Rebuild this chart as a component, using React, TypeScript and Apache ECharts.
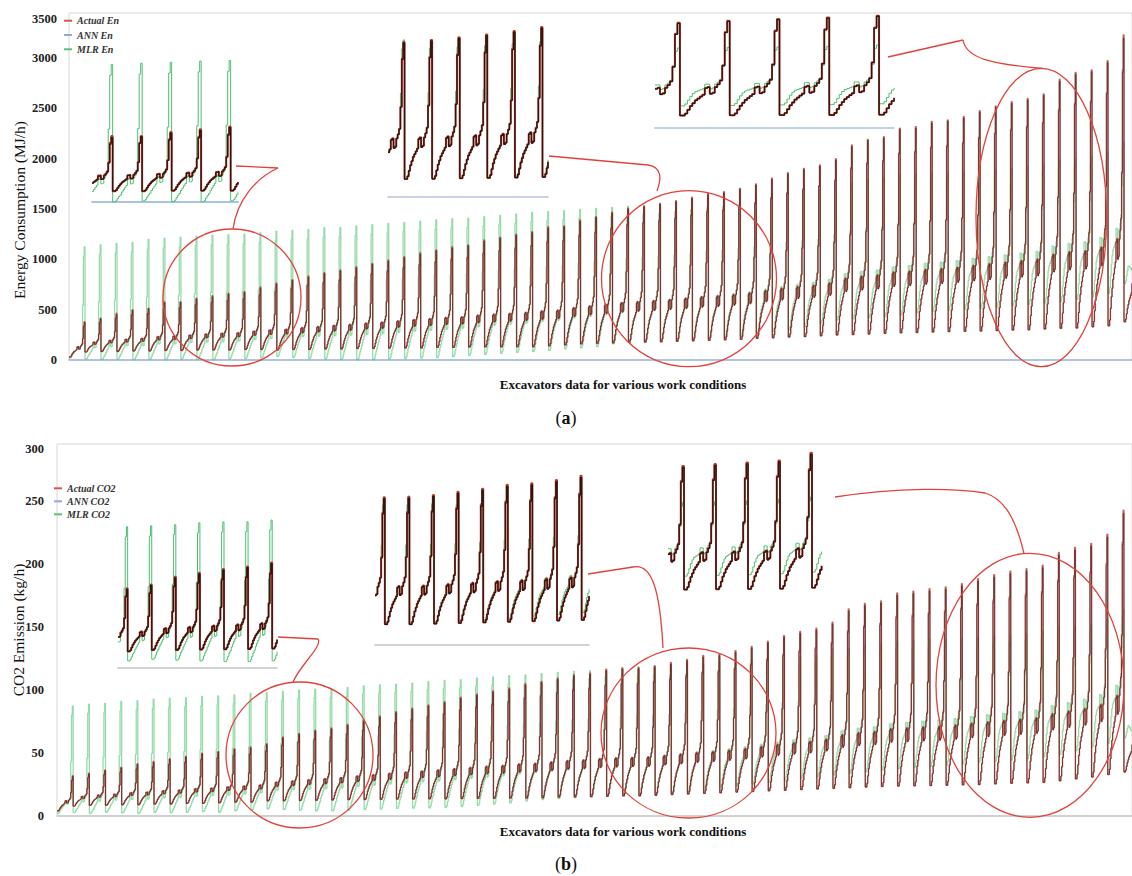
import React, { useEffect, useRef } from "react";
import * as echarts from "echarts";

// ---------- data ----------
const POINTS_PER_CYCLE = 20;
const TAIL_POINTS = 11; // the last, cut-off work cycle

// one work cycle, as share of the rise from the cycle's low to its peak
const cycleShape = [0, 0, 0.02, 0.06, 0.1, 0.13, 0.16, 0.18, 0.2, 0.22, 0.29, 0.3, 0.23, 0.24, 0.3, 0.33, 0.37, 0.53, 0.88, 1];
// share of the MLR low offset still present at each step before the spike
const mlrShift = [1, 1, 1, 1, 1, 1, 0.9, 0.8, 0.7, 0.6, 0.4, 0.3, 0.5, 0.5, 0.3, 0.2, 0.1];
// MLR spike steps (share of the way from the body to the MLR peak)
const mlrSpike = [0.4, 0.9, 1];

// (a) Energy consumption (MJ/h), one value per work cycle
const actualPeakEn = [380, 415, 465, 500, 515, 580, 580, 615, 640, 665, 680, 725, 765, 798, 835, 868, 895, 927, 960, 994, 1027, 1067, 1093, 1126, 1143, 1193, 1220, 1250, 1275, 1325, 1332, 1392, 1425, 1470, 1510, 1530, 1557, 1583, 1617, 1657, 1673, 1706, 1750, 1806, 1862, 1905, 1938, 2000, 2137, 2193, 2220, 2303, 2320, 2370, 2386, 2420, 2478, 2525, 2568, 2600, 2645, 2790, 2857, 2883, 2975, 3230, 1700];
const actualLowEn = [30, 80, 85, 85, 90, 90, 95, 95, 100, 100, 100, 105, 105, 100, 105, 105, 110, 110, 115, 115, 118, 120, 120, 125, 125, 128, 130, 130, 132, 132, 140, 150, 160, 166, 170, 175, 178, 182, 186, 190, 195, 200, 205, 215, 220, 228, 232, 240, 249, 252, 258, 265, 270, 274, 278, 282, 285, 288, 292, 298, 300, 308, 315, 318, 330, 340, 380];
const annPeakEn = [372, 410, 452, 492, 510, 566, 575, 606, 628, 655, 672, 712, 752, 790, 822, 860, 884, 915, 952, 980, 1018, 1052, 1085, 1112, 1135, 1180, 1210, 1238, 1266, 1310, 1325, 1378, 1415, 1458, 1500, 1520, 1545, 1572, 1605, 1645, 1662, 1695, 1738, 1792, 1850, 1890, 1926, 1985, 2120, 2180, 2205, 2290, 2305, 2355, 2372, 2405, 2462, 2510, 2550, 2585, 2630, 2770, 2840, 2865, 2955, 3200, 1680];
const mlrPeakEn = [1125, 1145, 1160, 1170, 1200, 1210, 1220, 1230, 1240, 1245, 1250, 1265, 1280, 1288, 1298, 1315, 1318, 1332, 1345, 1358, 1368, 1380, 1392, 1405, 1410, 1425, 1438, 1450, 1468, 1475, 1485, 1498, 1508, 1518, 1530, 1535, 1545, 1560, 1580, 1600, 1615, 1630, 1645, 1660, 1670, 1680, 1690, 1760, 1760, 1800, 1815, 1840, 1845, 1858, 1860, 1870, 1880, 1895, 1905, 1920, 1950, 1990, 2000, 2020, 2070, 2170, 1100];
const mlrLowEn = [20, 10, 5, 10, 0, 5, 0, 10, 5, 0, 10, 15, 20, 33, 25, 15, 10, 5, 0, 0, 10, 15, 20, 25, 33, 45, 55, 65, 75, 83, 95, 110, 120, 132, 160, 172, 180, 185, 195, 205, 215, 225, 240, 260, 280, 300, 331, 360, 398, 410, 420, 431, 450, 470, 485, 497, 505, 515, 525, 537, 550, 565, 580, 600, 630, 663, 760];

// (b) CO2 emission (kg/h), one value per work cycle
const actualPeakCo2 = [32, 34, 36.6, 38.8, 41.5, 43.3, 45.5, 47.4, 50, 51.4, 53.5, 54.8, 57.5, 62.8, 65.6, 68.2, 70, 72.8, 76.2, 79.5, 82.9, 85.6, 88.3, 90.9, 94.4, 96.9, 99.5, 101.7, 105.1, 107, 109.7, 112.4, 113.7, 116.4, 117.7, 118, 119.5, 122, 124.5, 127.6, 128.8, 131.4, 134.8, 139, 143.4, 146.7, 149.2, 154, 164.5, 168.9, 171, 177.3, 178.6, 180.6, 182, 184.6, 188.6, 191.8, 194.5, 196.6, 199.3, 209.5, 213.5, 216.7, 224, 243, 110];
const actualLowCo2 = [4, 8, 8.5, 8.5, 9, 9, 9.5, 9.5, 10, 10, 10.5, 11, 11, 12, 12, 12.3, 12.5, 12.7, 13, 13, 13.2, 13.4, 13.5, 13.6, 13.6, 13.8, 14, 14, 14.2, 14.2, 14.5, 15, 15.2, 15.5, 15.7, 16, 16, 16.5, 17, 17.5, 18, 18.5, 19, 19.5, 20, 20.5, 21, 21.5, 22, 22.5, 23, 23.5, 23.8, 24, 24.2, 24.5, 24.8, 25, 25.5, 26, 26.3, 26.7, 28, 29.5, 31, 33, 35];
const annPeakCo2 = [31.5, 33.4, 36, 38.2, 41, 42.6, 45, 46.8, 49.3, 50.8, 52.8, 54.1, 56.8, 62, 64.8, 67.4, 69.2, 72, 75.3, 78.6, 82, 84.7, 87.3, 89.9, 93.4, 95.9, 98.5, 100.6, 104, 105.9, 108.6, 111.2, 112.6, 115.2, 116.5, 116.9, 118.3, 120.8, 123.3, 126.3, 127.5, 130.1, 133.4, 137.6, 142, 145.2, 147.7, 152.5, 162.9, 167.2, 169.3, 175.5, 176.8, 178.8, 180.2, 182.8, 186.7, 189.9, 192.6, 194.6, 197.3, 207.4, 211.4, 214.5, 221.8, 240.6, 109];
const mlrPeakCo2 = [87.5, 89, 89.6, 91, 91.7, 92.8, 93.6, 94, 95, 95.5, 96.3, 97.6, 98.2, 99, 100.3, 100.9, 101, 102.2, 103.5, 104.3, 104.9, 105.7, 107, 107.8, 108.4, 109.7, 110.5, 111.6, 112.1, 113.2, 114.2, 115, 115.6, 116.9, 117.7, 118.5, 119, 118, 119.3, 120.8, 122, 123, 124.2, 125.3, 126, 126.8, 127.6, 132.9, 132.9, 135.9, 137, 138.9, 139.3, 140.3, 140.4, 141.2, 142, 143, 143.8, 145, 147.2, 150.2, 151, 152.5, 156.3, 163.8, 85];
const mlrLowCo2 = [2, 2.7, 2, 3, 2.5, 2, 3, 2.5, 3, 3.5, 3, 4, 4.5, 5.6, 5, 4.5, 4, 4, 4.5, 5, 5.5, 6, 6.3, 6.5, 6.7, 7.5, 8.5, 9.5, 10.5, 12, 13, 13.8, 14.5, 15, 15.5, 16, 16.2, 17, 18, 19.5, 21, 22.5, 24, 25.5, 27, 28.5, 30, 31, 32.5, 34, 35, 36.5, 37.5, 38.8, 39.5, 40.5, 41.5, 42.8, 43.5, 44.5, 45.5, 46.8, 49, 52, 55, 58, 62];

const yTicksEn = ["0", "500", "1000", "1500", "2000", "2500", "3000", "3500"];
const yTicksCo2 = ["0", "50", "100", "150", "200", "250", "300"];

// ---------- building the series from the per-cycle values ----------
function buildPanel(aPeak: number[], aLow: number[], nPeak: number[], mPeak: number[], mLow: number[]) {
  const actual: number[] = [];
  const ann: number[] = [];
  const mlr: number[] = [];
  const n = aPeak.length;
  for (let c = 0; c < n; c++) {
    const len = c === n - 1 ? TAIL_POINTS : POINTS_PER_CYCLE;
    let body = 0;
    for (let j = 0; j < len; j++) {
      const a = aLow[c] + cycleShape[j] * (aPeak[c] - aLow[c]);
      const nn = aLow[c] + cycleShape[j] * (nPeak[c] - aLow[c]);
      let m: number;
      if (j < 17) {
        m = a + (mLow[c] - aLow[c]) * mlrShift[j];
        body = m;
      } else {
        m = body + mlrSpike[j - 17] * (mPeak[c] - body);
      }
      actual.push(Math.round(a * 10) / 10);
      ann.push(Math.round(nn * 10) / 10);
      mlr.push(Math.round(m * 10) / 10);
    }
  }
  return { actual, ann, mlr };
}

const SERIF = "'Liberation Serif', 'DejaVu Serif', serif";
const RED = "#e0433b";

type Inset = { from: number; to: number; left: number; top: number; width: number; height: number; yMax: number; base: string | null };
type Panel = {
  names: [string, string, string];
  data: { actual: number[]; ann: number[]; mlr: number[] };
  main: { left: number; top: number; width: number; height: number; yMax: number; interval: number; labelMargin: number; axisColor: string };
  insets: Inset[];
};

function buildOption() {
  const panels: Panel[] = [
    {
      names: ["Actual En", "ANN En", "MLR En"],
      data: buildPanel(actualPeakEn, actualLowEn, annPeakEn, mlrPeakEn, mlrLowEn),
      main: { left: 69, top: 13, width: 1064, height: 347, yMax: 3449, interval: 500, labelMargin: 12, axisColor: "#9db7da" },
      insets: [
        { from: 106, to: 205, left: 92, top: 58, width: 146, height: 144, yMax: 1267, base: "#8fb0dc" },
        { from: 688, to: 804, left: 388, top: 27, width: 160, height: 170, yMax: 1656, base: "#b9c3d8" },
        { from: 1130, to: 1226, left: 655, top: 13, width: 239, height: 114.7, yMax: 2707, base: "#a9c2e2" },
      ],
    },
    {
      names: ["Actual CO2", "ANN CO2", "MLR CO2"],
      data: buildPanel(actualPeakCo2, actualLowCo2, annPeakCo2, mlrPeakCo2, mlrLowCo2),
      main: { left: 57, top: 444, width: 1078, height: 372, yMax: 295.7, interval: 50, labelMargin: 13, axisColor: "#c9c9c9" },
      insets: [
        { from: 232, to: 364, left: 118, top: 514.6, width: 159, height: 152.7, yMax: 106, base: "#c2c2c2" },
        { from: 692, to: 866, left: 375, top: 470, width: 214, height: 174.3, yMax: 139.5, base: "#c2c2c2" },
        { from: 1150, to: 1246, left: 668, top: 448, width: 153.6, height: 160.5, yMax: 216, base: null },
      ],
    },
  ];

  const grid: any[] = [];
  const xAxis: any[] = [];
  const yAxis: any[] = [];
  const series: any[] = [];

  const addSeries = (p: Panel, idx: number, from: number, to: number, inset: boolean) => {
    const sl = (arr: number[]) => arr.slice(from, to + 1);
    series.push({
      type: "line", name: p.names[2], xAxisIndex: idx, yAxisIndex: idx, data: sl(p.data.mlr), step: "end",
      showSymbol: inset, symbol: "circle", symbolSize: 2, silent: true, z: 1,
      itemStyle: { color: "#2fa552" },
      lineStyle: inset ? { color: "#4cc070", width: 1 } : { color: "rgba(80,195,115,0.6)", width: 1.3 },
    });
    series.push({
      type: "line", name: p.names[0], xAxisIndex: idx, yAxisIndex: idx, data: sl(p.data.actual), step: "end",
      showSymbol: false, silent: true, z: 2,
      itemStyle: { color: "#d9534f" },
      lineStyle: { color: inset ? "#c0392b" : "rgba(192,70,66,0.85)", width: inset ? 2 : 1.4 },
    });
    series.push({
      type: "line", name: p.names[1], xAxisIndex: idx, yAxisIndex: idx, data: sl(p.data.ann), step: "end",
      showSymbol: false, silent: true, z: 3,
      itemStyle: { color: "#8ea9db" },
      lineStyle: { color: inset ? "#2a1712" : "rgba(55,32,26,0.85)", width: inset ? 1.3 : 0.7 },
    });
  };

  panels.forEach((p) => {
    const m = p.main;
    const total = p.data.actual.length;
    const idx = grid.length;
    grid.push({ left: m.left, top: m.top, width: m.width, height: m.height, show: true, borderColor: "#d6d6d6", borderWidth: 1, backgroundColor: "transparent" });
    xAxis.push({
      type: "category", gridIndex: idx, boundaryGap: false,
      data: Array.from({ length: total }, (_, i) => String(i)),
      axisLine: { show: true, lineStyle: { color: m.axisColor, width: 1.5 } },
      axisTick: { show: false }, axisLabel: { show: false }, splitLine: { show: false },
    });
    yAxis.push({
      type: "value", gridIndex: idx, min: 0, max: m.yMax, interval: m.interval,
      axisLine: { show: false }, axisTick: { show: false }, splitLine: { show: false },
      axisLabel: {
        showMaxLabel: false, margin: m.labelMargin, fontFamily: SERIF, fontWeight: "bold", fontSize: 12.5, color: "#222",
        formatter: (v: number) => String(Math.round(v)),
      },
    });
    addSeries(p, idx, 0, total - 1, false);

    p.insets.forEach((ins) => {
      const k = grid.length;
      grid.push({ left: ins.left, top: ins.top, width: ins.width, height: ins.height, show: false });
      xAxis.push({
        type: "category", gridIndex: k, boundaryGap: false,
        data: Array.from({ length: ins.to - ins.from + 1 }, (_, i) => String(ins.from + i)),
        axisLine: { show: !!ins.base, lineStyle: { color: ins.base || "#fff", width: 1.6 } },
        axisTick: { show: false }, axisLabel: { show: false }, splitLine: { show: false },
      });
      yAxis.push({ type: "value", gridIndex: k, min: 0, max: ins.yMax, show: false, splitLine: { show: false } });
      addSeries(p, k, ins.from, ins.to, true);
    });
  });

  const legendStyle = { fontFamily: SERIF, fontStyle: "italic", fontWeight: "bold", fontSize: 10, color: "#333", lineHeight: 12 };
  const legendItems = (names: string[]) => [
    { name: names[0], icon: "rect", itemStyle: { color: "#d9534f" } },
    { name: names[1], icon: "rect", itemStyle: { color: "#8ea9db" } },
    { name: names[2], icon: "rect", itemStyle: { color: "#5cc27a" } },
  ];

  const ell = (cx: number, cy: number, rx: number, ry: number) => ({
    type: "ellipse", shape: { cx, cy, rx, ry }, silent: true, z: 50,
    style: { fill: "none", stroke: RED, lineWidth: 1.3 },
  });
  const seg = (x1: number, y1: number, x2: number, y2: number) => ({
    type: "line", shape: { x1, y1, x2, y2 }, silent: true, z: 50, style: { stroke: RED, lineWidth: 1.3 },
  });
  const curve = (x1: number, y1: number, cpx1: number, cpy1: number, cpx2: number, cpy2: number, x2: number, y2: number) => ({
    type: "bezierCurve", shape: { x1, y1, cpx1, cpy1, cpx2, cpy2, x2, y2 }, silent: true, z: 50,
    style: { fill: "none", stroke: RED, lineWidth: 1.3 },
  });
  const txt = (x: number, y: number, text: string, extra: any = {}, rotation = 0) => ({
    type: "text", x, y, rotation, silent: true, z: 60,
    style: { text, fill: "#111", fontFamily: SERIF, fontSize: 13, align: "center", verticalAlign: "middle", textAlign: "center", textVerticalAlign: "middle", ...extra },
  });

  const graphic: any[] = [
    // zoom circles and their leader lines
    ell(232, 297.5, 69, 68.5),
    seg(236, 166, 278, 168),
    curve(278, 168, 256, 178, 237, 200, 233, 229),
    ell(689, 278.7, 87.5, 88),
    seg(549, 156, 648, 165),
    curve(648, 165, 663, 167, 661, 180, 657, 191),
    ell(1041.3, 217.5, 65.3, 149.2),
    seg(888, 57, 963, 40),
    curve(963, 40, 966, 58, 990, 64, 1043, 68.5),
    ell(299.5, 755, 73.5, 73),
    seg(278, 637, 318, 639),
    curve(318, 639, 323, 646, 300, 665, 293, 682),
    ell(688.5, 733, 87.5, 85),
    seg(588, 574, 633, 567),
    curve(633, 567, 652, 563, 660, 590, 663, 648),
    ell(1030, 685.3, 94, 132),
    curve(835, 497, 900, 487, 955, 488, 985, 493),
    curve(985, 493, 1005, 499, 1016, 520, 1024, 553.5),
    // top tick labels that sit just under the frame
    txt(57, 18.5, yTicksEn[7], { fontWeight: "bold", fontSize: 12.5, align: "right", textAlign: "right", fill: "#222" }),
    txt(44, 449, yTicksCo2[6], { fontWeight: "bold", fontSize: 12.5, align: "right", textAlign: "right", fill: "#222" }),
    // axis titles
    txt(19, 210, "Energy Consumption (MJ/h)", { fontSize: 15.5 }, Math.PI / 2),
    txt(18, 630, "CO2 Emission (kg/h)", { fontSize: 15.5 }, Math.PI / 2),
    txt(623, 384, "Excavators data for various work conditions", { fontWeight: "bold", fontSize: 13 }),
    txt(623, 831, "Excavators data for various work conditions", { fontWeight: "bold", fontSize: 13 }),
    txt(566, 418, "{p|(}{b|a}{p|)}", { rich: { p: { fontFamily: SERIF, fontSize: 18, fill: "#111" }, b: { fontFamily: SERIF, fontSize: 18, fontWeight: "bold", fill: "#111" } } }),
    txt(566, 864, "{p|(}{b|b}{p|)}", { rich: { p: { fontFamily: SERIF, fontSize: 18, fill: "#111" }, b: { fontFamily: SERIF, fontSize: 18, fontWeight: "bold", fill: "#111" } } }),
  ];

  return {
    animation: false,
    backgroundColor: "#ffffff",
    grid,
    xAxis,
    yAxis,
    series,
    legend: [
      { left: 64, top: 14.7, orient: "vertical", itemWidth: 8, itemHeight: 2, itemGap: 2.3, padding: 0, selectedMode: false, textStyle: legendStyle, data: legendItems(panels[0].names) },
      { left: 54, top: 482.3, orient: "vertical", itemWidth: 8, itemHeight: 2, itemGap: 1, padding: 0, selectedMode: false, textStyle: legendStyle, data: legendItems(panels[1].names) },
    ],
    graphic,
  };
}

export default function App() {
  const ref = useRef<HTMLDivElement>(null);
  useEffect(() => {
    document.body.style.margin = "0";
    const chart = echarts.init(ref.current as HTMLDivElement, null, { renderer: "svg" });
    chart.setOption(buildOption() as any);
    return () => chart.dispose();
  }, []);
  return <div ref={ref} style={{ width: 1132, height: 876, background: "#fff" }} />;
}
